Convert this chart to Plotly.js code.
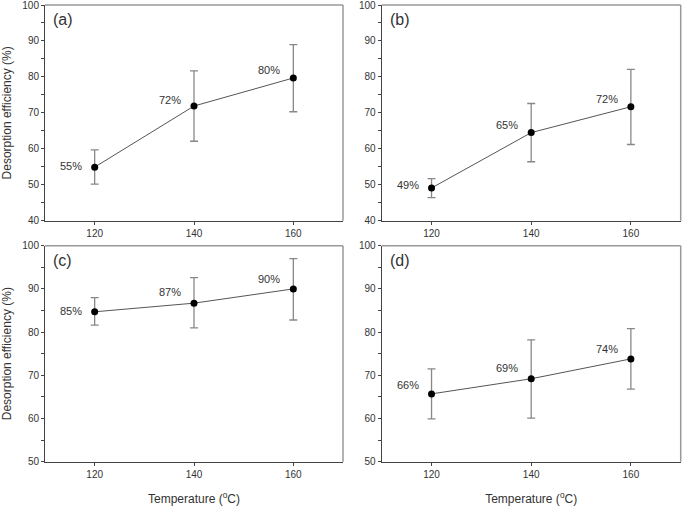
<!DOCTYPE html>
<html>
<head>
<meta charset="utf-8">
<script src="https://cdn.plot.ly/plotly-3.0.1.min.js"></script>
<style>html,body{margin:0;padding:0;background:#fff;}#chart{width:685px;height:506px;}</style>
</head>
<body>
<div id="chart"></div>
<script>
// ---- data ----
var temperature = [120, 140, 160];
var panelNames = ['(a)', '(b)', '(c)', '(d)'];
var effA = [54.9, 71.9, 79.7];
var errUpA = [4.8, 9.8, 9.3];
var errDownA = [4.7, 9.8, 9.4];
var effB = [49.1, 64.5, 71.7];
var errUpB = [2.6, 8.1, 10.4];
var errDownB = [2.7, 8.1, 10.5];
var effC = [84.7, 86.7, 90.0];
var errUpC = [3.3, 5.9, 7.0];
var errDownC = [3.1, 5.7, 7.2];
var effD = [65.7, 69.2, 73.8];
var errUpD = [5.8, 9.0, 7.0];
var errDownD = [5.8, 9.1, 7.0];
var labelsA = ['55%', '72%', '80%'];
var labelsB = ['49%', '65%', '72%'];
var labelsC = ['85%', '87%', '90%'];
var labelsD = ['66%', '69%', '74%'];
var xTickVals = [120, 140, 160];
var xTickText = ['120', '140', '160'];
var yTitle = 'Desorption efficiency (%)';
var xTitle = 'Temperature (<sup>o</sup>C)';

// ---- style / layout config ----
var W = 685, H = 506;
function fx(px) { return px / W; }
function fy(px) { return 1 - px / H; }
var panels = [
  {eff: effA, up: errUpA, dn: errDownA, lab: labelsA, yr: [40, 100], xd: [45, 343], yd: [5, 220.7], lift: [1, 6, 8]},
  {eff: effB, up: errUpB, dn: errDownB, lab: labelsB, yr: [40, 100], xd: [381.7, 680.7], yd: [5, 220.7], lift: [3, 8, 8]},
  {eff: effC, up: errUpC, dn: errDownC, lab: labelsC, yr: [50, 100], xd: [45, 343], yd: [245.7, 461.7], lift: [1, 11, 10]},
  {eff: effD, up: errUpD, dn: errDownD, lab: labelsD, yr: [50, 100], xd: [381.7, 680.7], yd: [245.7, 461.7], lift: [9, 11, 10]}
];
var fontFam = 'Liberation Sans, Arial, sans-serif';
var textCol = '#333';

var traces = [];
var layout = {
  width: W, height: H,
  margin: {l: 0, r: 0, t: 0, b: 0},
  paper_bgcolor: '#fff', plot_bgcolor: '#fff',
  showlegend: false,
  font: {family: fontFam, color: textCol, size: 10},
  annotations: [], shapes: []
};

panels.forEach(function (p, i) {
  var n = i === 0 ? '' : String(i + 1);
  traces.push({
    type: 'scatter', mode: 'lines+markers',
    x: temperature, y: p.eff,
    xaxis: 'x' + n, yaxis: 'y' + n,
    line: {color: '#555', width: 1},
    marker: {color: '#000', size: 7},
    error_y: {type: 'data', symmetric: false, array: p.up, arrayminus: p.dn,
              color: '#888', thickness: 1.3, width: 4},
    cliponaxis: false, hoverinfo: 'skip'
  });
  var xa = {
    domain: [fx(p.xd[0]), fx(p.xd[1])], range: [110, 170],
    anchor: 'y' + n,
    tickmode: 'array', tickvals: xTickVals, ticktext: xTickText,
    ticks: 'outside', ticklen: 3, tickcolor: '#444', tickwidth: 1,
    showline: true, linecolor: '#444', linewidth: 1,
    showgrid: false, zeroline: false, fixedrange: true,
    ticklabeloverflow: 'allow',
    tickfont: {size: 10, color: textCol}
  };
  if (i >= 2) {
    xa.title = {text: xTitle, font: {size: 12, color: textCol}, standoff: 15};
  }
  var ya = {
    domain: [fy(p.yd[1]), fy(p.yd[0])], range: p.yr,
    anchor: 'x' + n, dtick: 10,
    ticks: 'outside', ticklen: 3, tickcolor: '#444', tickwidth: 1,
    minor: {ticks: 'outside', ticklen: 3, dtick: 5, tickcolor: '#444', tickwidth: 1, showgrid: false},
    showline: true, linecolor: '#444', linewidth: 1,
    showgrid: false, zeroline: false, fixedrange: true,
    ticklabeloverflow: 'allow',
    tickfont: {size: 10, color: textCol}
  };
  if (i % 2 === 0) {
    ya.title = {text: yTitle, font: {size: 12, color: textCol}, standoff: 12};
  }
  layout['xaxis' + n] = xa;
  layout['yaxis' + n] = ya;

  // top and right frame lines
  layout.shapes.push({type: 'line', xref: 'x' + n + ' domain', yref: 'y' + n + ' domain',
    x0: 0, x1: 1, y0: 1, y1: 1, line: {color: '#999', width: 1.5}});
  layout.shapes.push({type: 'line', xref: 'x' + n + ' domain', yref: 'y' + n + ' domain',
    x0: 1, x1: 1, y0: 0, y1: 1, line: {color: '#999', width: 1.5}});

  // panel letter
  layout.annotations.push({xref: 'x' + n + ' domain', yref: 'y' + n + ' domain',
    x: 0, y: 1, xshift: 6, yshift: -4, xanchor: 'left', yanchor: 'top',
    text: panelNames[i], showarrow: false, font: {size: 16, color: textCol}});

  // value labels
  temperature.forEach(function (t, k) {
    layout.annotations.push({xref: 'x' + n, yref: 'y' + n, x: t, y: p.eff[k],
      xshift: -24, yshift: p.lift[k], xanchor: 'center', yanchor: 'middle',
      text: p.lab[k], showarrow: false, font: {size: 11, color: textCol}});
  });
});

Plotly.newPlot('chart', traces, layout, {staticPlot: true, displayModeBar: false});
</script>
</body>
</html>
